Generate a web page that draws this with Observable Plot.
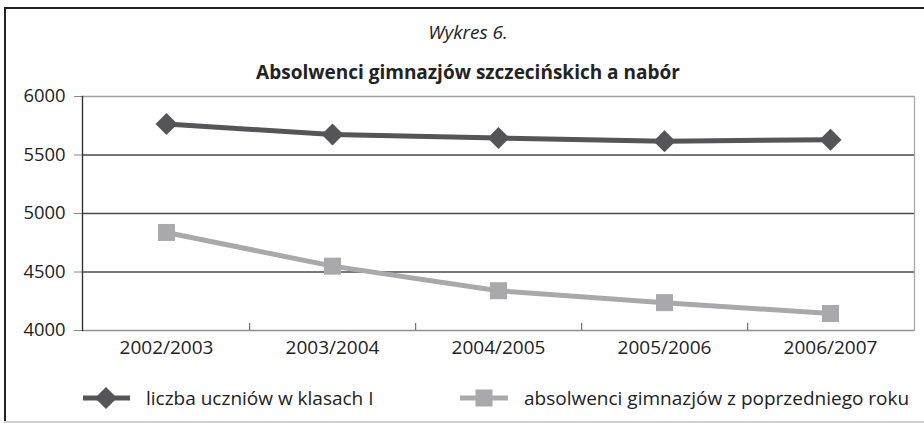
<!DOCTYPE html>
<html><head><meta charset="utf-8">
<script src="https://cdn.jsdelivr.net/npm/d3@7"></script>
<script src="https://cdn.jsdelivr.net/npm/@observablehq/plot@0.6"></script>
<style>
body{margin:0;background:#fff;}
#wrap{position:relative;width:924px;height:423px;overflow:hidden;font-family:"Open Sans",sans-serif;color:#222;background:#fff;}
#wrap svg.plot{position:absolute;left:0;top:0;}
.frameTop{position:absolute;left:4px;top:7px;width:930px;height:2px;background:#222;}
.frameLeft{position:absolute;left:4px;top:7px;width:2px;height:420px;background:#222;}
.frameBottom{position:absolute;left:4px;top:421px;width:930px;height:2px;background:#d0d0d0;}
.sub{position:absolute;left:0;width:936px;top:18px;text-align:center;font-style:italic;font-size:19px;line-height:28px;}
.title{position:absolute;left:0;width:936px;top:58px;text-align:center;font-weight:bold;font-size:19px;line-height:28px;}
.legend{position:absolute;top:384px;left:0;font-size:19px;line-height:28px;}
.item{position:absolute;top:0;white-space:nowrap;}
.item svg{position:absolute;top:1px;}
.item span{position:absolute;top:0;}
</style></head><body><div id="wrap"></div>
<script>
const categories = ["2002/2003","2003/2004","2004/2005","2005/2006","2006/2007"];
const liczba = [5765, 5675, 5645, 5618, 5630];
const absolwenci = [4838, 4550, 4340, 4238, 4145];
const seriesNames = ["liczba uczniów w klasach I","absolwenci gimnazjów z poprzedniego roku"];
const yTicks = [4000, 4500, 5000, 5500, 6000];
const gridValues = [4500, 5000, 5500];
const colors = ["#555557", "#a9a9ab"];
const subtitle = "Wykres 6.";
const title = "Absolwenci gimnazjów szczecińskich a nabór";

const rows = [];
categories.forEach((c, i) => {
  rows.push({cat: c, value: liczba[i], series: seriesNames[0]});
  rows.push({cat: c, value: absolwenci[i], series: seriesNames[1]});
});
const s0 = rows.filter(d => d.series === seriesNames[0]);
const s1 = rows.filter(d => d.series === seriesNames[1]);

const W = 924, H = 423, mL = 82, mR = 10, mT = 96, mB = 93;
const step = (W - mL - mR) / categories.length;

const chart = Plot.plot({
  width: W, height: H,
  marginLeft: mL, marginRight: mR, marginTop: mT, marginBottom: mB,
  style: {fontFamily: "Open Sans", background: "transparent", color: "#222", overflow: "visible"},
  x: {type: "point", domain: categories, padding: 0.5, label: null},
  y: {domain: [4000, 6000], label: null},
  marks: [
    Plot.ruleY(gridValues, {stroke: "#4a4a4a", strokeWidth: 1.3}),
    Plot.ruleY([6000], {stroke: "#a0a0a0", strokeWidth: 1.5}),
    Plot.ruleY([4000], {stroke: "#909090", strokeWidth: 1.5}),
    Plot.frame({anchor: "right", stroke: "#a8a8a8", strokeWidth: 1.3}),
    Plot.ruleX(categories.slice(0, -1), {x: d => d, dx: step / 2, y1: 4000, y2: 4000, insetTop: -7, stroke: "#555"}),
    Plot.axisY({ticks: yTicks, tickSize: 8, tickPadding: 9, fontSize: 18.4, stroke: "#888", strokeOpacity: 1, tickFormat: d => String(d), label: null}),
    Plot.frame({anchor: "left", stroke: "#333", strokeWidth: 1.4}),
    Plot.axisX({tickSize: 0, tickPadding: 10, fontSize: 19, label: null}),
    Plot.line(s1, {x: "cat", y: "value", stroke: colors[1], strokeWidth: 5}),
    Plot.dot(s1, {x: "cat", y: "value", symbol: "square", r: 9.6, fill: colors[1], stroke: "none"}),
    Plot.line(s0, {x: "cat", y: "value", stroke: colors[0], strokeWidth: 5}),
    Plot.dot(s0, {x: "cat", y: "value", symbol: "diamond2", r: 9.9, fill: colors[0], stroke: "none"})
  ]
});
chart.classList.add("plot");

const wrap = document.getElementById("wrap");
wrap.appendChild(chart);
wrap.insertAdjacentHTML("beforeend", `
<div class="frameTop"></div><div class="frameLeft"></div><div class="frameBottom"></div>
<div class="sub">${subtitle}</div>
<div class="title">${title}</div>
<div class="legend">
  <div class="item" style="left:83px">
    <svg width="50" height="26" style="left:0"><line x1="0" x2="47" y1="13" y2="13" stroke="${colors[0]}" stroke-width="5"/><path d="M23,2 L34,13 L23,24 L12,13 Z" fill="${colors[0]}"/></svg>
    <span style="left:63px">${seriesNames[0]}</span>
  </div>
  <div class="item" style="left:460px">
    <svg width="50" height="26" style="left:0"><line x1="0" x2="48" y1="13" y2="13" stroke="${colors[1]}" stroke-width="5"/><rect x="15.5" y="4.5" width="17" height="17" fill="${colors[1]}"/></svg>
    <span style="left:64px">${seriesNames[1]}</span>
  </div>
</div>`);
</script>
</body></html>
